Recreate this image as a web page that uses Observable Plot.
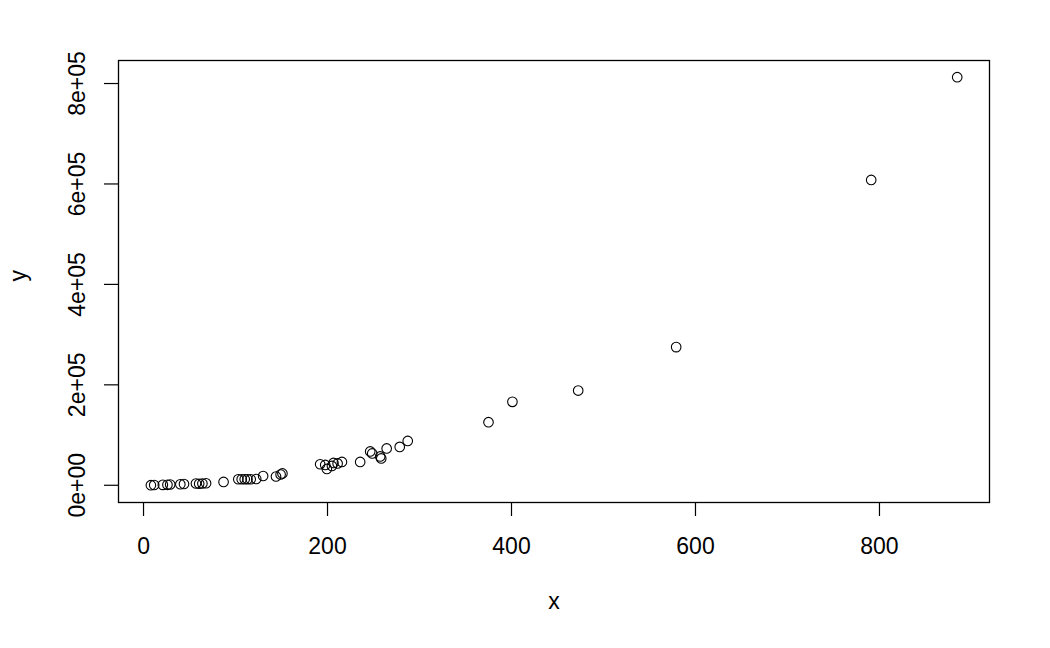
<!DOCTYPE html>
<html><head><meta charset="utf-8">
<script src="https://cdn.jsdelivr.net/npm/d3@7"></script>
<script src="https://cdn.jsdelivr.net/npm/@observablehq/plot@0.6"></script>
<style>body{margin:0;background:#fff}</style>
</head><body><div id="chart"></div>
<script>
const xValues = [8, 11.6, 21, 26, 29, 40, 44, 57, 60.5, 64, 68, 87, 103, 106.7, 110, 113, 116.5, 122.5, 130, 144, 149, 151,
  192, 199.3, 204.8, 206.5, 211, 215.7, 197.5, 235.5, 246.4, 248.6, 257.3, 258.4, 264.3, 278.5, 287.2,
  375, 401, 472.5, 579, 791, 884.5];
const yValues = [100, 500, 800, 900, 1500, 2000, 2500, 3500, 3000, 3500, 4000, 6600, 12000, 12000, 12000, 12000, 12000, 12500, 18500, 17500, 21500, 23500,
  41900, 32500, 38500, 44500, 43500, 46500, 40500, 46500, 67400, 63400, 57400, 53400, 73400, 76400, 88300,
  125600, 166100, 188600, 275100, 608000, 812600];
const xTicks = [0, 200, 400, 600, 800];
const yTicks = [0, 200000, 400000, 600000, 800000];
const yTickLabels = ["0e+00", "2e+05", "4e+05", "6e+05", "8e+05"];
const xDomain = [-27.2, 919.6];
const yDomain = [-34300, 845850];
const xLabel = "x";
const yLabel = "y";

const data = xValues.map((x, i) => ({x, y: yValues[i]}));

const chart = Plot.plot({
  width: 1050, height: 648,
  marginLeft: 118, marginRight: 61, marginTop: 60, marginBottom: 146,
  style: {fontFamily: "Arial, 'Liberation Sans', sans-serif", fontSize: "23px", background: "#fff", color: "#000", overflow: "visible"},
  x: {domain: xDomain},
  y: {domain: yDomain},
  marks: [
    Plot.frame({stroke: "#000", strokeWidth: 1.3}),
    Plot.axisX({ticks: xTicks, tickSize: 14, tickPadding: 21, tickFormat: d => String(d), label: null, fontSize: 23, strokeWidth: 1.2}),
    Plot.axisY({ticks: yTicks, tickSize: 14, tickPadding: 20, tickRotate: -90, tickFormat: d => yTickLabels[yTicks.indexOf(d)], label: null, fontSize: 23, strokeWidth: 1.2}),
    Plot.text([xLabel], {text: d => d, frameAnchor: "bottom", dy: 106, fontSize: 23}),
    Plot.text([yLabel], {text: d => d, frameAnchor: "left", dx: -100, rotate: -90, fontSize: 23}),
    Plot.dot(data, {x: "x", y: "y", r: 4.8, stroke: "#000", strokeWidth: 1.1, fill: "none"})
  ]
});
document.getElementById("chart").appendChild(chart);
</script>
</body></html>
